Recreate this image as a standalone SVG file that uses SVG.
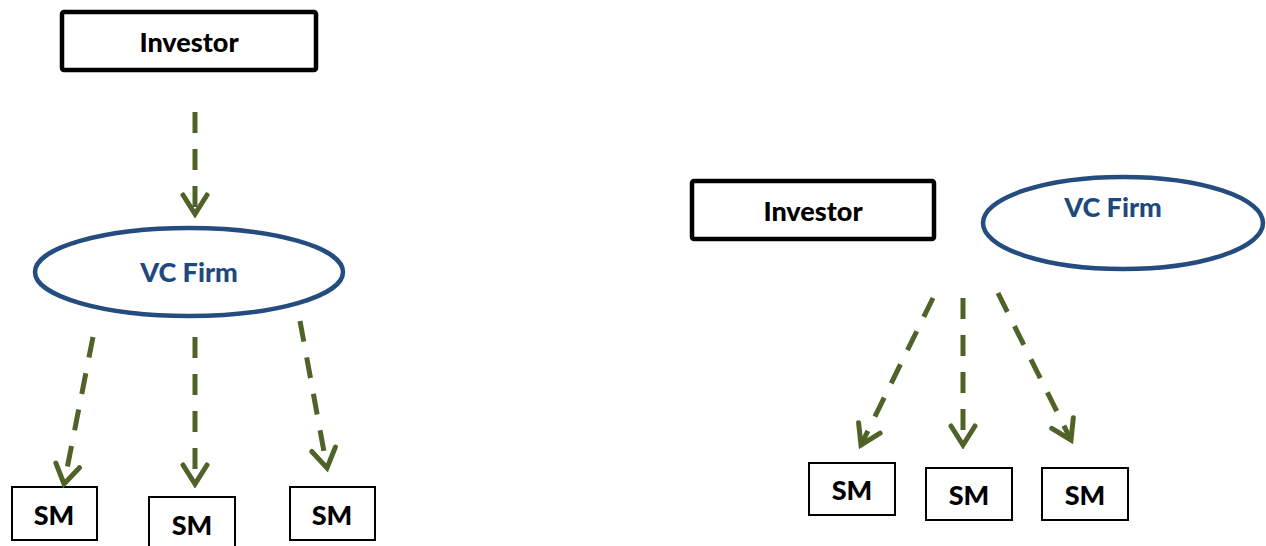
<svg xmlns="http://www.w3.org/2000/svg" width="1266" height="546" viewBox="0 0 1266 546">
  <style>
    .box { fill: #fff; stroke: #000; }
    .big { stroke-width: 4.5; }
    .small { stroke-width: 2; }
    .oval { fill: #fff; stroke: #244C7F; stroke-width: 4.5; }
    .lbl { font-family: Lato, "Liberation Sans", sans-serif; font-weight: 900; font-size: 27px; text-anchor: middle; fill: #000; }
    .vc { fill: #1F497D; }
    .flow { fill: none; stroke: #4F6228; stroke-width: 5; stroke-dasharray: 21 16; marker-end: url(#chev); }
  </style>
  <defs>
    <marker id="chev" markerUnits="userSpaceOnUse" orient="auto" viewBox="-24 -15 28 30" refX="0" refY="0" markerWidth="28" markerHeight="30">
      <path d="M-19,-12 L0,0 L-19,12" fill="none" stroke="#4F6228" stroke-width="5" stroke-linecap="round" stroke-linejoin="miter"/>
    </marker>
  </defs>

  <rect width="1266" height="546" fill="#fff"/>

  <!-- left layout: investor -> VC firm -> startups -->
  <g id="investor-a">
    <rect class="box big" x="62" y="12" width="254" height="58" rx="2"/>
    <text class="lbl" x="189" y="52">Investor</text>
  </g>
  <g id="vcfirm-a">
    <ellipse class="oval" cx="189" cy="272" rx="154" ry="44"/>
    <text class="lbl vc" x="189" y="282">VC Firm</text>
  </g>
  <g id="sm-a1">
    <rect class="box small" x="12" y="487" width="85" height="53"/>
    <text class="lbl" x="54" y="525">SM</text>
  </g>
  <g id="sm-a2">
    <rect class="box small" x="149" y="497" width="86" height="60"/>
    <text class="lbl" x="192" y="535">SM</text>
  </g>
  <g id="sm-a3">
    <rect class="box small" x="290" y="487" width="85" height="53"/>
    <text class="lbl" x="332" y="525">SM</text>
  </g>

  <!-- right layout: investor and VC firm side by side -->
  <g id="investor-b">
    <rect class="box big" x="692" y="181" width="242" height="58" rx="2"/>
    <text class="lbl" x="813" y="221">Investor</text>
  </g>
  <g id="vcfirm-b">
    <ellipse class="oval" cx="1123" cy="223" rx="140" ry="46"/>
    <text class="lbl vc" x="1113" y="217">VC Firm</text>
  </g>
  <g id="sm-b1">
    <rect class="box small" x="809" y="463" width="86" height="52"/>
    <text class="lbl" x="852" y="500">SM</text>
  </g>
  <g id="sm-b2">
    <rect class="box small" x="926" y="468" width="86" height="52"/>
    <text class="lbl" x="969" y="505">SM</text>
  </g>
  <g id="sm-b3">
    <rect class="box small" x="1042" y="468" width="86" height="52"/>
    <text class="lbl" x="1085" y="505">SM</text>
  </g>

  <g id="connectors">
    <line class="flow" x1="195" y1="112" x2="195" y2="214"/>
    <line class="flow" x1="93" y1="337" x2="64" y2="484"/>
    <line class="flow" x1="195" y1="337" x2="195" y2="484"/>
    <line class="flow" x1="300" y1="321" x2="327" y2="468"/>
    <line class="flow" x1="933" y1="298" x2="861" y2="445"/>
    <line class="flow" x1="963" y1="298" x2="963" y2="445"/>
    <line class="flow" x1="998" y1="293" x2="1071" y2="440"/>
  </g>
</svg>
